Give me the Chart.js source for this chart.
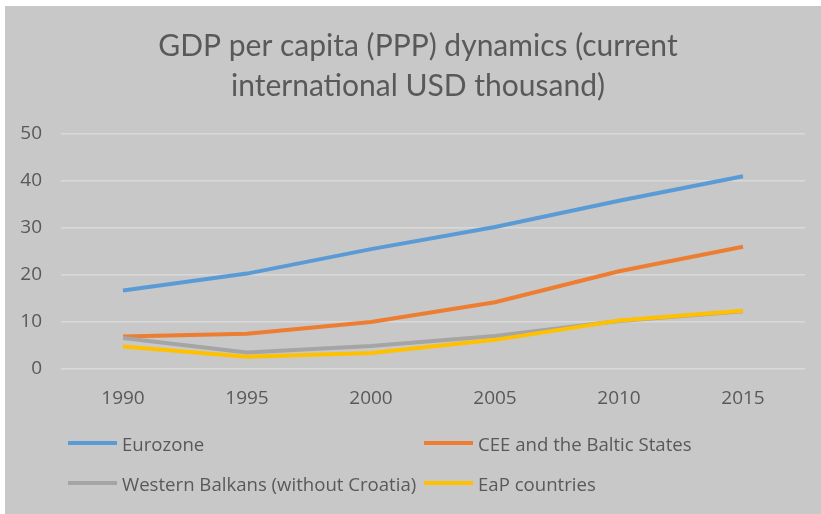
<!DOCTYPE html>
<html>
<head>
<meta charset="utf-8">
<script src="https://cdn.jsdelivr.net/npm/chart.js@4.4.0/dist/chart.umd.min.js"></script>
<style>
  html, body { margin: 0; padding: 0; background: #fff; }
  #wrap { position: absolute; left: 5px; top: 6px; width: 816px; height: 508px; background: #c8c8c8; }
  #gdpChart { position: absolute; left: 0; top: 0; }
  #legend {
    position: absolute; left: 63px; top: 417px;
    display: grid; grid-template-columns: 356px auto;
    font-family: 'Open Sans', sans-serif; font-size: 18.6px; color: #595959;
  }
  .item { display: flex; align-items: center; height: 40px; white-space: nowrap; }
  .swatch { width: 49px; height: 4px; margin-right: 5px; }
</style>
</head>
<body>
<div id="wrap">
  <canvas id="gdpChart" width="816" height="508"></canvas>
  <div id="legend"></div>
</div>
<script>
const years = ['1990', '1995', '2000', '2005', '2010', '2015'];

const eurozone = [16.7, 20.3, 25.5, 30.2, 35.8, 41.0];
const ceeBaltic = [6.9, 7.5, 10.0, 14.2, 20.8, 26.0];
const westernBalkans = [6.6, 3.5, 4.9, 7.0, 10.2, 12.3];
const eapCountries = [4.8, 2.6, 3.4, 6.2, 10.3, 12.4];

const yTicks = [0, 10, 20, 30, 40, 50];

const titleLines = ['GDP per capita (PPP) dynamics (current', 'international USD thousand)'];

const series = [
  { label: 'Eurozone', data: eurozone, color: '#5b9bd5' },
  { label: 'CEE and the Baltic States', data: ceeBaltic, color: '#ed7d31' },
  { label: 'Western Balkans (without Croatia)', data: westernBalkans, color: '#a5a5a5' },
  { label: 'EaP countries', data: eapCountries, color: '#ffc000' }
];

const textColor = '#595959';

// y tick labels sit left of the narrow axis box; widen its clip area
const unclipYLabels = {
  id: 'unclipYLabels',
  afterLayout(chart) { chart.scales.y.left = 0; }
};

const ctx = document.getElementById('gdpChart').getContext('2d');
const gdpChart = new Chart(ctx, {
  type: 'line',
  data: {
    labels: years,
    datasets: series.map((s, i) => ({
      label: s.label,
      data: s.data,
      borderColor: s.color,
      backgroundColor: s.color,
      borderWidth: 4,
      pointRadius: 0,
      tension: 0,
      order: series.length - i   // later series drawn on top, like Excel
    }))
  },
  plugins: [unclipYLabels],
  options: {
    responsive: false,
    animation: false,
    layout: { padding: { top: 0, left: 26, right: 16, bottom: 100 } },
    scales: {
      x: {
        offset: true,
        grid: { display: false, drawTicks: false },
        border: { display: false },
        ticks: { color: textColor, font: { family: 'Open Sans', size: 19 }, padding: 18 },
        afterFit: scale => { scale.height = 45; }
      },
      y: {
        min: 0,
        max: 50,
        afterBuildTicks: scale => { scale.ticks = yTicks.map(v => ({ value: v })); },
        grid: { color: '#d9d9d9', lineWidth: 1.5, drawTicks: false },
        border: { display: false },
        ticks: { color: textColor, font: { family: 'Open Sans', size: 19 }, padding: 19 },
        afterFit: scale => { scale.width = 30; }
      }
    },
    plugins: {
      legend: { display: false },
      tooltip: { enabled: false },
      title: {
        display: true,
        text: titleLines,
        color: textColor,
        font: { family: 'Lato', size: 30, weight: 'normal', lineHeight: 40 / 30 },
        padding: { top: 20, bottom: 28 }
      }
    }
  }
});

// legend laid out as a two-column grid, like the original
const legendEl = document.getElementById('legend');
series.forEach(s => {
  const item = document.createElement('div');
  item.className = 'item';
  const sw = document.createElement('span');
  sw.className = 'swatch';
  sw.style.background = s.color;
  item.appendChild(sw);
  item.appendChild(document.createTextNode(s.label));
  legendEl.appendChild(item);
});
</script>
</body>
</html>
